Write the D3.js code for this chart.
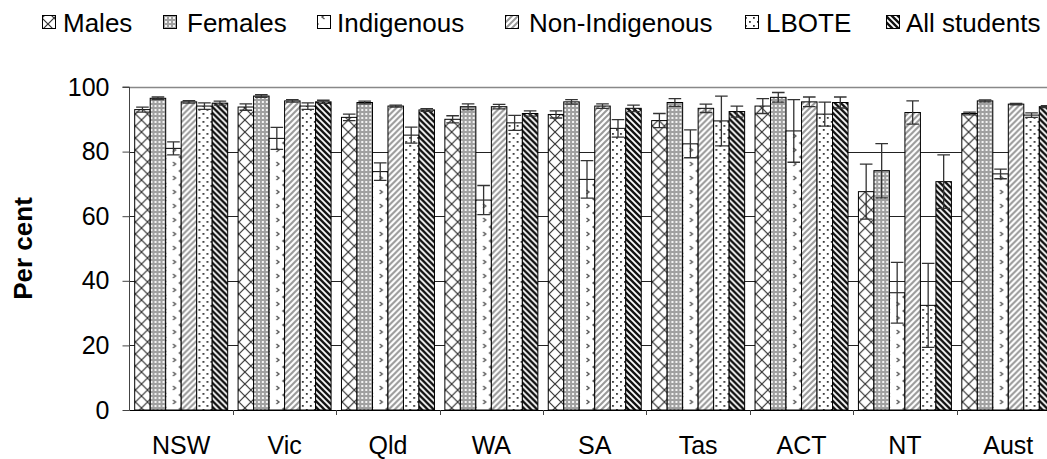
<!DOCTYPE html>
<html><head><meta charset="utf-8">
<script src="https://cdn.jsdelivr.net/npm/d3@7"></script>
<style>body{margin:0;background:#fff}svg{display:block;font-family:"Liberation Sans",Arial,sans-serif}</style>
</head><body><svg id="c" width="1047" height="459"></svg>
<script>
const categories = ["NSW","Vic","Qld","WA","SA","Tas","ACT","NT","Aust"];
const seriesNames = ["Males","Females","Indigenous","Non-Indigenous","LBOTE","All students"];
const males      = [93.0, 93.8, 90.6, 90.0, 91.5, 89.6, 94.1, 67.6, 91.8];
const females    = [96.5, 97.2, 95.2, 93.9, 95.4, 95.2, 96.8, 74.1, 95.7];
const indigenous = [81.0, 84.1, 73.8, 65.0, 71.4, 82.4, 86.4, 36.3, 73.1];
const nonIndig   = [95.4, 95.7, 94.1, 93.9, 94.1, 93.4, 95.4, 92.1, 94.7];
const lbote      = [94.1, 94.1, 85.1, 88.9, 87.2, 89.5, 91.6, 32.4, 91.3];
const allStud    = [95.0, 95.4, 92.9, 91.8, 93.4, 92.4, 95.2, 70.7, 93.9];
const malesErr      = [0.8, 1.0, 1.0, 1.1, 1.1, 2.2, 2.3, 8.5, 0.4];
const femalesErr    = [0.4, 0.4, 0.4, 0.9, 0.7, 1.2, 1.5, 8.4, 0.3];
const indigenousErr = [2.0, 3.4, 2.7, 4.5, 5.8, 4.3, 9.7, 9.4, 1.5];
const nonIndigErr   = [0.4, 0.4, 0.3, 0.7, 0.7, 1.3, 1.5, 3.6, 0.2];
const lboteErr      = [1.0, 1.0, 2.5, 2.3, 2.7, 7.7, 3.7, 13.0, 0.7];
const allStudErr    = [0.6, 0.5, 0.4, 0.8, 1.0, 1.7, 1.7, 8.3, 0.3];
const yTicks = [0, 20, 40, 60, 80, 100];

const values = [males, females, indigenous, nonIndig, lbote, allStud];
const errs = [malesErr, femalesErr, indigenousErr, nonIndigErr, lboteErr, allStudErr];
const patIds = ["pM","pF","pI","pN","pL","pA"];
const FONT = '"Liberation Sans",Arial,sans-serif';

const svg = d3.select("#c");
const defs = svg.append("defs");
function pat(id, w, h, draw){
  const p = defs.append("pattern").attr("id", id).attr("patternUnits","userSpaceOnUse")
    .attr("width", w).attr("height", h);
  p.append("rect").attr("width", w).attr("height", h).attr("fill", "#fff");
  draw(p);
}
pat("pM", 12, 12, p => {
  p.append("path").attr("d","M0,0L12,12M12,0L0,12M-1,11L1,13M11,-1L13,1").attr("stroke","#333").attr("stroke-width",1.2);
});
pat("pF", 4, 4, p => {
  p.append("rect").attr("width",4).attr("height",4).attr("fill","#a0a0a0");
  p.append("rect").attr("x",1).attr("y",1).attr("width",2).attr("height",2).attr("fill","#f4f4f4");
});
pat("pI", 16, 14, p => {
  p.append("path").attr("d","M4.5,1L2,3L4.5,5M11.5,8L14,10L11.5,12").attr("stroke","#555").attr("stroke-width",1.4).attr("fill","none");
});
pat("pN", 6, 6, p => {
  p.append("path").attr("d","M-1,7L7,-1M-4,4L4,-4M2,10L10,2").attr("stroke","#999").attr("stroke-width",2);
});
pat("pL", 8, 8, p => {
  p.append("rect").attr("x",1).attr("y",1).attr("width",1.8).attr("height",1.8).attr("fill","#333");
  p.append("rect").attr("x",5).attr("y",5).attr("width",1.8).attr("height",1.8).attr("fill","#333");
});
pat("pA", 6, 6, p => {
  p.append("path").attr("d","M-1,-1L7,7M-4,2L4,10M2,-4L10,4").attr("stroke","#111").attr("stroke-width",2.4);
});

const x0 = d3.scaleBand().domain(categories).range([129.5, 1060]).paddingInner(0).paddingOuter(0);
const bw = x0.bandwidth();
const x1 = d3.scaleBand().domain(seriesNames).range([5.2, bw - 5.2]).paddingInner(0);
const y = d3.scaleLinear().domain([0, 100]).range([410, 87]);

// gridlines
svg.append("g").selectAll("line").data(yTicks.filter(t => t > 0 && t < 100)).join("line")
  .attr("x1", 129.5).attr("x2", 1047).attr("y1", d => Math.round(y(d)) + 0.5).attr("y2", d => Math.round(y(d)) + 0.5)
  .attr("stroke", "#222").attr("stroke-width", 1);
svg.append("line").attr("x1",129.5).attr("x2",1047).attr("y1",y(100)+0.5).attr("y2",y(100)+0.5)
  .attr("stroke","#888").attr("stroke-width",1.5);

// bars
const groups = svg.append("g").selectAll("g").data(categories).join("g")
  .attr("transform", d => `translate(${x0(d)},0)`);
seriesNames.forEach((s, si) => {
  groups.append("rect")
    .attr("x", () => x1(s))
    .attr("y", (d, i) => y(values[si][i]))
    .attr("width", x1.bandwidth())
    .attr("height", (d, i) => y(0) - y(values[si][i]))
    .attr("fill", `url(#${patIds[si]})`)
    .attr("stroke", "#000").attr("stroke-width", 1);
});
// error bars
seriesNames.forEach((s, si) => {
  const cx = x1(s) + x1.bandwidth() / 2;
  const cap = 6.3;
  groups.append("path")
    .attr("d", (d, i) => {
      const v = values[si][i], e = errs[si][i];
      const yt = y(v + e), yb = y(v - e);
      return `M${cx},${yt}L${cx},${yb}M${cx-cap},${yt}L${cx+cap},${yt}M${cx-cap},${yb}L${cx+cap},${yb}`;
    })
    .attr("stroke", "#333").attr("stroke-width", 1.3).attr("fill", "none");
});

// axes
const yAxis = d3.axisLeft(y).tickValues(yTicks).tickSize(7).tickPadding(13).tickFormat(d3.format("d"));
const gy = svg.append("g").attr("transform", "translate(129.5,0)").call(yAxis);
gy.select(".domain").attr("stroke", "#444").attr("d", `M-7,${y(100)}H0V${y(0)}`);
gy.selectAll(".tick line").attr("stroke", "#444");
gy.selectAll("text").attr("font-size", 25).attr("fill", "#000").attr("font-family", FONT);

const xAxis = d3.axisBottom(x0).tickSize(0);
const gx = svg.append("g").attr("transform", "translate(0,410)").call(xAxis);
gx.select(".domain").attr("stroke", "#000").attr("d", "M129.5,0.5H1047");
gx.selectAll("text").attr("font-size", 25).attr("fill", "#000").attr("font-family", FONT)
  .attr("y", 44).attr("dy", 0);
// category separator ticks
gx.append("g").selectAll("line").data(categories).join("line")
  .attr("x1", d => Math.round(x0(d) + bw) + 0.5).attr("x2", d => Math.round(x0(d) + bw) + 0.5)
  .attr("y1", 0).attr("y2", 5).attr("stroke", "#444");

// y title
svg.append("text").attr("transform", "translate(32,248.5) rotate(-90)")
  .attr("text-anchor", "middle").attr("font-size", 26).attr("font-weight", "bold").text("Per cent");

// legend
const legX = [42, 163, 317, 505, 745, 886];
const legT = [63, 187, 337, 529, 766, 906];
const leg = svg.append("g").selectAll("g").data(seriesNames).join("g");
leg.append("rect").attr("x", (d, i) => legX[i] + 0.5).attr("y", 15.5).attr("width", 13).attr("height", 13)
  .attr("fill", (d, i) => `url(#${patIds[i]})`).attr("stroke", "#000").attr("stroke-width", 1);
leg.append("text").attr("x", (d, i) => legT[i]).attr("y", 31.5).attr("font-size", 26).text(d => d);
</script></body></html>
